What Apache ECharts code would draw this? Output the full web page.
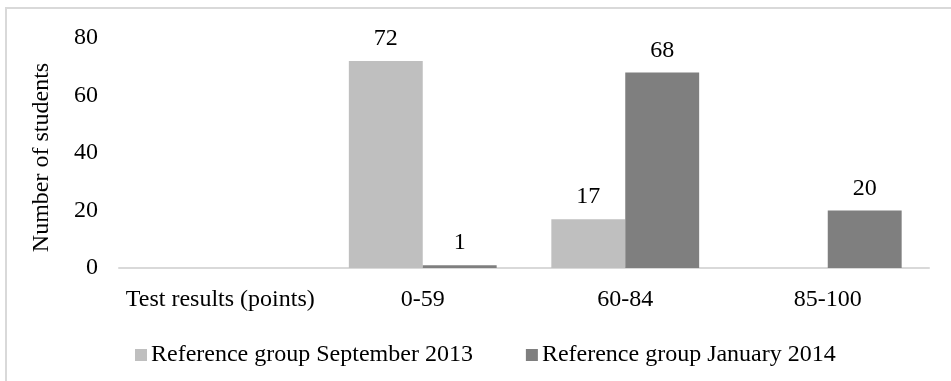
<!DOCTYPE html>
<html>
<head>
<meta charset="utf-8">
<script src="https://cdn.jsdelivr.net/npm/echarts@6/dist/echarts.min.js"></script>
<style>
  html, body { margin: 0; padding: 0; background: #fff; }
  #chart { width: 951px; height: 381px; }
</style>
</head>
<body>
<div id="chart"></div>
<script>
// Score bands on the category axis (the first slot holds the axis caption)
const categories = ['Test results (points)', '0-59', '60-84', '85-100'];
const seriesNames = ['Reference group September 2013', 'Reference group January 2014'];
const september2013 = [null, 72, 17, null];
const january2014 = [null, 1, 68, 20];
const yTicks = { min: 0, max: 80, interval: 20 };

const FONT = 'Liberation Serif';
const SIZE = 24;
const TEXT = '#000';

const chart = echarts.init(document.getElementById('chart'), null, { renderer: 'canvas' });

const barLabel = {
  show: true,
  position: 'top',
  distance: 10,
  fontFamily: FONT,
  fontSize: SIZE,
  color: TEXT
};

chart.setOption({
  animation: false,
  backgroundColor: '#fff',
  graphic: [{
    type: 'rect',
    shape: { x: 6, y: 8, width: 1000, height: 400 },
    style: { fill: 'none', stroke: '#d9d9d9', lineWidth: 2 },
    silent: true
  }],
  grid: { left: 119, right: 22, top: 38, bottom: 113, containLabel: false },
  legend: {
    left: 130,
    top: 338,
    itemWidth: 12,
    itemHeight: 12,
    itemGap: 53,
    icon: 'rect',
    textStyle: { fontFamily: FONT, fontSize: SIZE, color: TEXT, padding: [0, 0, 0, -1] },
    data: seriesNames
  },
  xAxis: {
    type: 'category',
    data: categories,
    axisLine: { show: true, lineStyle: { color: '#d9d9d9', width: 2 } },
    axisTick: { show: false },
    axisLabel: { interval: 0, margin: 20, fontFamily: FONT, fontSize: SIZE, color: TEXT }
  },
  yAxis: {
    type: 'value',
    min: yTicks.min,
    max: yTicks.max,
    interval: yTicks.interval,
    name: 'Number of students',
    nameLocation: 'middle',
    nameGap: 65,
    nameTextStyle: { fontFamily: FONT, fontSize: SIZE, color: TEXT, padding: [0, 9, 0, 0] },
    axisLine: { show: false },
    axisTick: { show: false },
    splitLine: { show: false },
    axisLabel: { margin: 21, fontFamily: FONT, fontSize: SIZE, color: TEXT }
  },
  series: [
    {
      name: seriesNames[0],
      type: 'bar',
      data: september2013,
      barGap: '0%',
      barCategoryGap: '27%',
      itemStyle: { color: '#bfbfbf' },
      label: barLabel
    },
    {
      name: seriesNames[1],
      type: 'bar',
      data: january2014,
      barGap: '0%',
      barCategoryGap: '27%',
      itemStyle: { color: '#7f7f7f' },
      label: barLabel
    }
  ]
});
</script>
</body>
</html>
